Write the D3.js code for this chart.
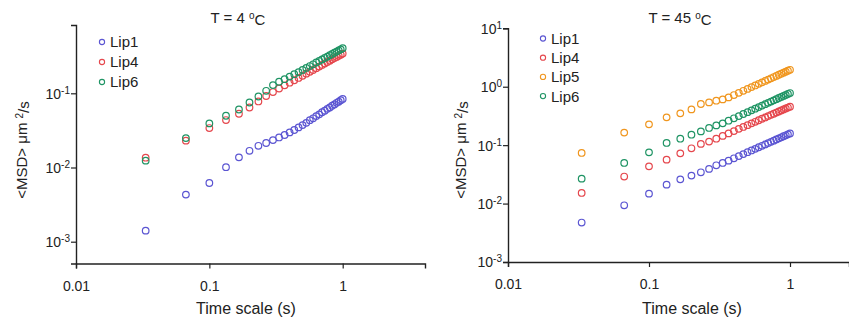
<!DOCTYPE html>
<html>
<head>
<meta charset="utf-8">
<script src="https://cdn.jsdelivr.net/npm/d3@7"></script>
<style>
  body { margin: 0; background: #fff; }
  svg { display: block; font-family: "Liberation Sans", Arial, sans-serif; }
</style>
</head>
<body>
<svg id="chart" width="849" height="322"></svg>
<script>
// lag times (s), frames at 30 fps
const lagTimes = [
  0.0333, 0.0667, 0.1, 0.1333, 0.1667, 0.2, 0.2333, 0.2667, 0.3, 0.3333,
  0.3667, 0.4, 0.4333, 0.4667, 0.5, 0.5333, 0.5667, 0.6, 0.6333, 0.6667,
  0.7, 0.7333, 0.7667, 0.8, 0.8333, 0.8667, 0.9, 0.9333, 0.9667, 1.0
];

// T = 4 C
const cold_Lip1 = [0.00141, 0.00431, 0.00618, 0.0101, 0.0137, 0.0168, 0.0196, 0.0214, 0.0234, 0.0254,
  0.0274, 0.0297, 0.0320, 0.0347, 0.0373, 0.0400, 0.0434, 0.0460, 0.0493, 0.0520,
  0.0555, 0.0582, 0.0617, 0.0644, 0.0680, 0.0708, 0.0745, 0.0772, 0.0809, 0.0840];
const cold_Lip4 = [0.01355, 0.0230, 0.0340, 0.0436, 0.0530, 0.0644, 0.0776, 0.092, 0.104, 0.116,
  0.128, 0.139, 0.150, 0.161, 0.172, 0.184, 0.195, 0.206, 0.218, 0.229,
  0.241, 0.252, 0.264, 0.275, 0.287, 0.298, 0.309, 0.320, 0.332, 0.343];
const cold_Lip6 = [0.01236, 0.0249, 0.0393, 0.0498, 0.0605, 0.0752, 0.0906, 0.108, 0.129, 0.143,
  0.155, 0.168, 0.181, 0.193, 0.206, 0.220, 0.233, 0.246, 0.260, 0.273,
  0.286, 0.299, 0.312, 0.326, 0.339, 0.352, 0.365, 0.378, 0.391, 0.405];

// T = 45 C
const hot_Lip1 = [0.00473, 0.00935, 0.0148, 0.0211, 0.0260, 0.0301, 0.0343, 0.0392, 0.0452, 0.0496,
  0.0543, 0.0596, 0.0649, 0.0703, 0.0757, 0.0811, 0.0865, 0.0920, 0.0975, 0.1029,
  0.1085, 0.1140, 0.1195, 0.1251, 0.1307, 0.1363, 0.1419, 0.1475, 0.1532, 0.159];
const hot_Lip4 = [0.0152, 0.0290, 0.0434, 0.0565, 0.0724, 0.0883, 0.105, 0.115, 0.129, 0.144,
  0.159, 0.174, 0.190, 0.205, 0.220, 0.236, 0.251, 0.267, 0.283, 0.298,
  0.314, 0.330, 0.345, 0.361, 0.377, 0.393, 0.409, 0.425, 0.440, 0.455];
const hot_Lip5 = [0.0736, 0.164, 0.227, 0.299, 0.350, 0.409, 0.506, 0.539, 0.576, 0.607,
  0.656, 0.721, 0.786, 0.852, 0.918, 0.985, 1.052, 1.120, 1.188, 1.257,
  1.325, 1.394, 1.463, 1.533, 1.602, 1.672, 1.743, 1.813, 1.884, 1.95];
const hot_Lip6 = [0.0267, 0.0496, 0.0753, 0.109, 0.129, 0.151, 0.172, 0.197, 0.218, 0.236,
  0.262, 0.288, 0.314, 0.341, 0.367, 0.394, 0.421, 0.448, 0.475, 0.502,
  0.530, 0.557, 0.585, 0.613, 0.641, 0.669, 0.697, 0.725, 0.753, 0.78];

const xTicks = [0.01, 0.1, 1];
const xTickLabels = ['0.01', '0.1', '1'];
const coldYTicks = [0.001, 0.01, 0.1];
const hotYTicks = [0.001, 0.01, 0.1, 1, 10];

const colors = { Lip1: '#5b55d2', Lip4: '#e5474d', Lip5: '#f0961e', Lip6: '#1f9464' };

const svg = d3.select('#chart');

const drawPanel = (p) => {
  const g = svg.append('g');

  // scales fixed on two known decades, then stretched to the axis line ends
  const x = d3.scaleLog().domain([0.01, 1]).range([p.x0, p.x1]);
  x.domain([0.01, x.invert(p.xEnd)]).range([p.x0, p.xEnd]);
  const y = d3.scaleLog().domain(p.yRef).range([p.yRefPx[0], p.yRefPx[1]]);
  y.domain([y.invert(p.yBottom), y.invert(p.yTop)]).range([p.yBottom, p.yTop]);

  const xAxis = g.append('g')
    .attr('transform', `translate(0,${p.yBottom})`)
    .call(d3.axisBottom(x).tickValues(xTicks).tickSizeOuter(0).tickSize(5)
      .tickFormat((d, i) => xTickLabels[i]));
  xAxis.selectAll('text').attr('dy', null).attr('y', 27).style('font-size', '14px');

  const yAxis = g.append('g')
    .attr('transform', `translate(${p.x0},0)`)
    .call(d3.axisLeft(y).tickValues(p.yTicks).tickSizeOuter(0).tickSize(5).tickFormat(''));

  yAxis.selectAll('.tick').each(function (d) {
    const t = d3.select(this).append('text')
      .attr('x', -6).attr('dy', '0.35em')
      .attr('text-anchor', 'end')
      .attr('fill', '#222')
      .style('font-size', '14px');
    t.append('tspan').text('10');
    t.append('tspan').attr('dy', '-0.5em').style('font-size', '10px')
      .text(Math.round(Math.log10(d)));
  });

  [xAxis, yAxis].forEach(a => {
    a.select('.domain').attr('stroke', '#222').attr('stroke-width', 1.4);
    a.selectAll('.tick line').attr('stroke', '#222').attr('stroke-width', 1.2);
    a.selectAll('.tick text').attr('fill', '#222').style('font-family', '"Liberation Sans", Arial, sans-serif');
  });

  // data
  p.series.forEach(s => {
    g.append('g')
      .selectAll('circle')
      .data(lagTimes.map((t, i) => ({ t: t, v: s.values[i] })))
      .join('circle')
      .attr('cx', d => x(d.t))
      .attr('cy', d => y(d.v))
      .attr('r', 3.3)
      .attr('fill', 'none')
      .attr('stroke', colors[s.name])
      .attr('stroke-width', 1.2);
  });

  // legend
  const leg = g.append('g').attr('transform', `translate(${p.legX},${p.legY})`);
  const rows = leg.selectAll('g').data(p.series).join('g')
    .attr('transform', (d, i) => `translate(0,${i * p.legStep})`);
  rows.append('circle').attr('r', 2.6).attr('fill', 'none')
    .attr('stroke', d => colors[d.name]).attr('stroke-width', 1.1);
  rows.append('text').attr('x', 8).attr('dy', '0.36em')
    .style('font-size', '15px').attr('fill', '#222')
    .text(d => d.name);

  // titles
  const title = g.append('text').attr('x', p.titleX).attr('y', 23)
    .attr('text-anchor', 'middle').style('font-size', '15px').attr('fill', '#222');
  title.append('tspan').text(p.title + ' ');
  title.append('tspan').attr('dy', '-0.45em').style('font-size', '10px').text('o');
  title.append('tspan').attr('dy', '0.45em').text('C');

  g.append('text').attr('x', p.xLabelX).attr('y', 314)
    .attr('text-anchor', 'middle').style('font-size', '16px').attr('fill', '#222')
    .text('Time scale (s)');

  const yl = g.append('text')
    .attr('transform', `translate(${p.yLabelX},150) rotate(-90)`)
    .attr('text-anchor', 'middle').style('font-size', '15px').attr('fill', '#222');
  yl.append('tspan').text('<MSD> μm ');
  yl.append('tspan').attr('dy', '-0.45em').style('font-size', '10px').text('2');
  yl.append('tspan').attr('dy', '0.45em').text('/s');
};

drawPanel({
  x0: 76, x1: 342.7, xEnd: 425,
  yRef: [0.001, 0.1], yRefPx: [241.7, 93.3], yTop: 25, yBottom: 263.5,
  yTicks: coldYTicks,
  series: [
    { name: 'Lip1', values: cold_Lip1 },
    { name: 'Lip4', values: cold_Lip4 },
    { name: 'Lip6', values: cold_Lip6 }
  ],
  legX: 102, legY: 42, legStep: 20,
  title: 'T = 4', titleX: 238, xLabelX: 246, yLabelX: 27
});

drawPanel({
  x0: 508, x1: 790, xEnd: 849,
  yRef: [0.001, 10], yRefPx: [262, 28.3], yTop: 28.3, yBottom: 262,
  yTicks: hotYTicks,
  series: [
    { name: 'Lip1', values: hot_Lip1 },
    { name: 'Lip4', values: hot_Lip4 },
    { name: 'Lip5', values: hot_Lip5 },
    { name: 'Lip6', values: hot_Lip6 }
  ],
  legX: 543, legY: 38.5, legStep: 19.2,
  title: 'T = 45', titleX: 680, xLabelX: 692, yLabelX: 466
});
</script>
</body>
</html>
